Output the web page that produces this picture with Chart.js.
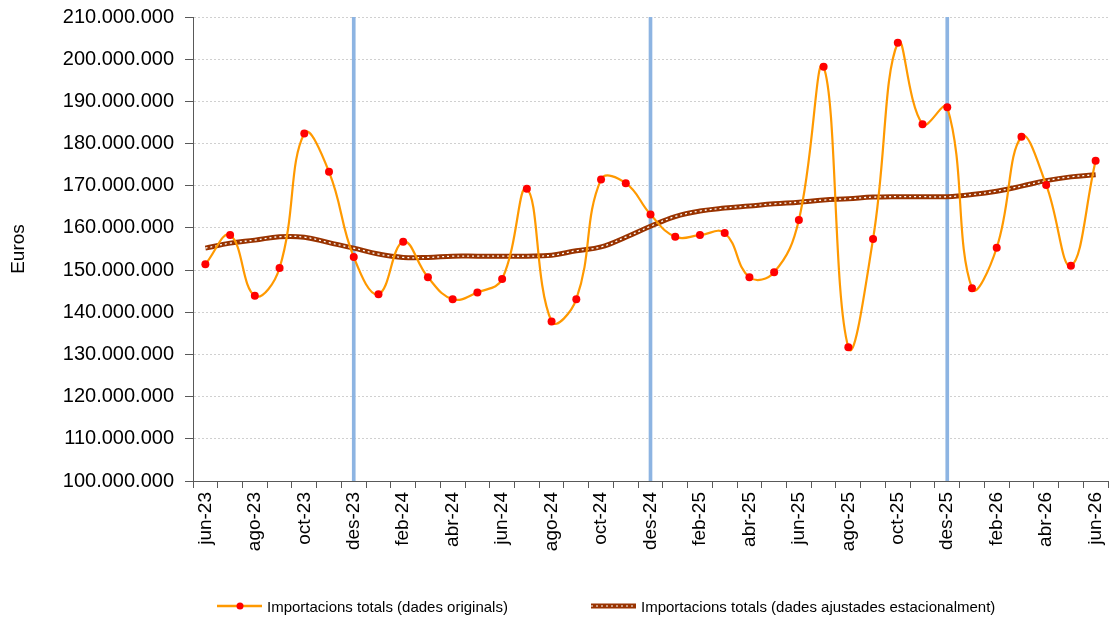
<!DOCTYPE html>
<html>
<head>
<meta charset="utf-8">
<script src="https://cdn.jsdelivr.net/npm/chart.js@4"></script>
<style>
  html, body { margin: 0; padding: 0; background: #fff; }
  #wrap { position: relative; width: 1112px; height: 621px; font-family: "Liberation Sans", Arial, sans-serif; }
  #legend { position: absolute; top: 596px; left: 0; width: 1112px; height: 20px; font-size: 15px; color: #000; }
  .item { position: absolute; top: 0; display: flex; align-items: center; height: 20px; white-space: nowrap; }
  .item svg { margin-right: 4px; }
</style>
</head>
<body>
<div id="wrap">
  <canvas id="chart" width="1112" height="621"></canvas>
  <div id="legend">
    <div class="item" style="left:216px">
      <svg width="47" height="10"><line x1="1" y1="5" x2="46" y2="5" stroke="#FF9900" stroke-width="2.5"/><circle cx="24" cy="5" r="3.5" fill="#FF0000"/></svg>
      <span>Importacions totals (dades originals)</span>
    </div>
    <div class="item" style="left:590px">
      <svg width="47" height="10"><line x1="1" y1="5" x2="46" y2="5" stroke="#993300" stroke-width="5"/><line x1="1" y1="5" x2="46" y2="5" stroke="#ffffff" stroke-width="1.2" stroke-dasharray="2 3"/></svg>
      <span>Importacions totals (dades ajustades estacionalment)</span>
    </div>
  </div>
</div>
<script>
// categories (monthly)
const months = [
  'jun-23','jul-23','ago-23','set-23','oct-23','nov-23','des-23',
  'gen-24','feb-24','mar-24','abr-24','mai-24','jun-24','jul-24','ago-24','set-24','oct-24','nov-24','des-24',
  'gen-25','feb-25','mar-25','abr-25','mai-25','jun-25','jul-25','ago-25','set-25','oct-25','nov-25','des-25',
  'gen-26','feb-26','mar-26','abr-26','mai-26','jun-26'
];

// original data (millions of euros)
const originals = [
  151.4, 158.3, 143.9, 150.5, 182.4, 173.3, 153.1,
  144.3, 156.7, 148.3, 143.1, 144.7, 147.9, 169.3, 137.8, 143.1, 171.5, 170.6, 163.2,
  157.9, 158.3, 158.8, 148.3, 149.5, 161.9, 198.2, 131.7, 157.4, 203.9, 184.6, 188.6,
  145.7, 155.3, 181.6, 170.2, 151.0, 175.9
];

// seasonally adjusted (millions of euros)
const adjusted = [
  155.2, 156.4, 157.1, 157.9, 157.8, 156.5, 155.2,
  153.8, 153.0, 153.0, 153.3, 153.3, 153.3, 153.3, 153.5, 154.6, 155.5, 157.8, 160.4,
  162.7, 164.0, 164.7, 165.2, 165.7, 166.1, 166.6, 166.9, 167.3, 167.4, 167.4, 167.4,
  167.9, 168.7, 169.9, 171.2, 172.1, 172.6
];

// december markers (vertical blue lines)
const decMarks = ['des-23', 'des-24', 'des-25'];

const yMin = 100000000, yMax = 210000000, yStep = 10000000;

const toEuros = arr => arr.map(v => Math.round(v * 1000000));
const markData = months.map(m => decMarks.includes(m) ? yMax : null);

function fmt(v) {
  return String(Math.round(v)).replace(/\B(?=(\d{3})+(?!\d))/g, '.');
}

const ctx = document.getElementById('chart');

new Chart(ctx, {
  type: 'line',
  data: {
    labels: months,
    datasets: [
      {
        label: 'Importacions totals (dades originals)',
        data: toEuros(originals),
        borderColor: '#FF9900',
        borderWidth: 2.2,
        tension: 0.42,
        pointRadius: 4,
        pointBackgroundColor: '#FF0000',
        pointBorderWidth: 0,
        order: 1
      },
      {
        label: 'dots',
        data: toEuros(adjusted),
        borderColor: '#ffffff',
        borderWidth: 1.3,
        borderDash: [2, 3],
        tension: 0.4,
        pointRadius: 0,
        order: 2
      },
      {
        label: 'Importacions totals (dades ajustades estacionalment)',
        data: toEuros(adjusted),
        borderColor: '#993300',
        borderWidth: 5,
        tension: 0.4,
        pointRadius: 0,
        order: 3
      },
      {
        type: 'bar',
        label: 'des',
        data: markData,
        backgroundColor: '#8DB4E2',
        barThickness: 3,
        order: 10
      }
    ]
  },
  options: {
    responsive: false,
    animation: false,
    layout: { padding: { top: 17, right: 0, left: 0, bottom: 0 } },
    plugins: {
      legend: { display: false },
      tooltip: { enabled: false }
    },
    scales: {
      x: {
        offset: true,
        border: { color: '#595959', width: 1 },
        grid: {
          offset: true,
          drawOnChartArea: false,
          drawTicks: true,
          tickLength: 7,
          tickColor: '#595959'
        },
        ticks: {
          autoSkip: false,
          maxRotation: 90,
          minRotation: 90,
          padding: 4,
          color: '#000',
          font: { family: 'Liberation Sans', size: 19 },
          callback: function (val, i) { return i % 2 === 0 ? months[i] : ''; }
        },
        afterFit: s => { s.height = 140; s.paddingRight = 0; s.paddingLeft = 0; }
      },
      y: {
        min: yMin,
        max: yMax,
        border: { color: '#595959', width: 1, dash: [2, 2] },
        grid: {
          color: '#d0d0d0',
          tickColor: '#595959',
          tickLength: 8
        },
        ticks: {
          stepSize: yStep,
          padding: 11,
          color: '#000',
          font: { family: 'Liberation Sans', size: 20 },
          callback: v => fmt(v)
        },
        title: {
          display: true,
          text: 'Euros',
          color: '#000',
          padding: { top: 7, bottom: 0 },
          font: { family: 'Liberation Sans', size: 19 }
        },
        afterFit: s => { s.width = 193; s.paddingTop = 0; s.paddingBottom = 0; }
      }
    }
  }
});
</script>
</body>
</html>
